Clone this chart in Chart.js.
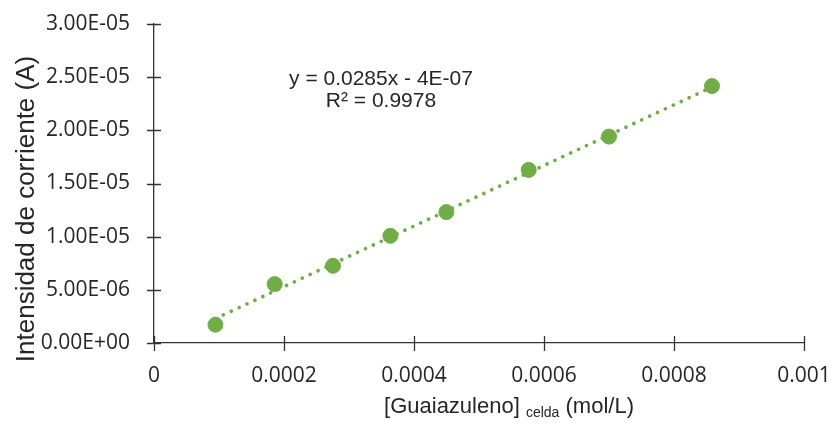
<!DOCTYPE HTML>
<html>
<head>
  <title>Curva de calibración - Guaiazuleno</title>
  <meta charset="utf-8" />
  <script src="https://cdn.jsdelivr.net/npm/chart.js@4.4.1/dist/chart.umd.min.js"></script>
  <style type="text/css">
    html, body { margin: 0; padding: 0; background: #fff; }
    #wrap { width: 834px; height: 429px; }
  </style>
</head>
<body>
<div id="wrap"><canvas id="calib"></canvas></div>

<script>
  // concentración en celda (mol/L) y corriente medida (A)
  var concentracion = [0.0000945, 0.0001857, 0.0002754, 0.0003637, 0.0004498, 0.0005765, 0.0007, 0.0008585];
  var corriente = [1.72e-6, 5.54e-6, 7.26e-6, 1.008e-5, 1.231e-5, 1.628e-5, 1.941e-5, 2.417e-5];

  // línea de tendencia lineal
  var pendiente = 0.0285;
  var intercepto = -4e-7;
  var r2 = 0.9978;

  var xTicks = [0, 0.0002, 0.0004, 0.0006, 0.0008, 0.001];
  var yTicks = [0, 5e-6, 1e-5, 1.5e-5, 2e-5, 2.5e-5, 3e-5];

  var verde = '#70AD47';
  var ejeColor = '#333333';
  var textoColor = '#262626';

  function sci(v) {
    if (v === 0) return '0.00E+00';
    var e = Math.floor(Math.log10(Math.abs(v)) + 1e-9);
    var m = v / Math.pow(10, e);
    var sign = e < 0 ? '-' : '+';
    var ee = Math.abs(e);
    return m.toFixed(2) + 'E' + sign + (ee < 10 ? '0' + ee : ee);
  }

  var puntos = concentracion.map(function(x, i) { return {x: x, y: corriente[i]}; });
  var x0 = concentracion[0], x1 = concentracion[concentracion.length - 1];
  var tendencia = [
    {x: x0, y: pendiente * x0 + intercepto},
    {x: x1, y: pendiente * x1 + intercepto}
  ];

  // marcas cruzadas en los ejes + títulos + ecuación
  var extras = {
    id: 'extras',
    afterDraw: function(chart) {
      var ctx = chart.ctx, xs = chart.scales.x, ys = chart.scales.y;
      var area = chart.chartArea;
      ctx.save();
      ctx.strokeStyle = ejeColor;
      ctx.lineWidth = 1.3;
      ctx.beginPath();
      yTicks.forEach(function(v) {
        var p = Math.round(ys.getPixelForValue(v)) + 0.5;
        ctx.moveTo(area.left - 7, p); ctx.lineTo(area.left + 7, p);
      });
      xTicks.forEach(function(v) {
        var p = Math.round(xs.getPixelForValue(v)) + 0.5;
        ctx.moveTo(p, area.bottom - 7); ctx.lineTo(p, area.bottom + 8);
      });
      ctx.stroke();

      ctx.fillStyle = textoColor;
      // título eje Y
      ctx.save();
      ctx.translate(34, 209);
      ctx.rotate(-Math.PI / 2);
      ctx.font = '26px "Liberation Sans", Arial, sans-serif';
      ctx.textAlign = 'center';
      ctx.textBaseline = 'alphabetic';
      ctx.fillText('Intensidad de corriente (A)', 0, 0);
      ctx.restore();

      // título eje X con subíndice
      var big = '22px "Liberation Sans", Arial, sans-serif';
      var small = '14px "Liberation Sans", Arial, sans-serif';
      var a = '[Guaiazuleno] ', b = 'celda', c = ' (mol/L)';
      ctx.font = big; var wa = ctx.measureText(a).width, wc = ctx.measureText(c).width;
      ctx.font = small; var wb = ctx.measureText(b).width;
      var sx = 509 - (wa + wb + wc) / 2;
      ctx.textAlign = 'left';
      ctx.font = big; ctx.fillText(a, sx, 413);
      ctx.font = small; ctx.fillText(b, sx + wa, 417);
      ctx.font = big; ctx.fillText(c, sx + wa + wb, 413);

      // ecuación de la recta
      ctx.textAlign = 'center';
      ctx.font = '21px "Liberation Sans", Arial, sans-serif';
      ctx.fillText('y = ' + pendiente + 'x - 4E-07', 381, 85);
      ctx.fillText('R² = ' + r2, 381, 107);
      ctx.restore();
    }
  };

  new Chart(document.getElementById('calib'), {
    type: 'scatter',
    data: {
      datasets: [{
        data: tendencia,
        showLine: true,
        borderColor: verde,
        borderWidth: 3.7,
        borderDash: [0.01, 8.7],
        borderCapStyle: 'round',
        pointRadius: 0,
        fill: false
      }, {
        data: puntos,
        backgroundColor: verde,
        borderColor: verde,
        pointRadius: 7.5,
        pointHoverRadius: 7.5
      }]
    },
    plugins: [extras],
    options: {
      responsive: true,
      maintainAspectRatio: false,
      animation: false,
      layout: { padding: { left: 0, right: 30, top: 24, bottom: 0 } },
      plugins: { legend: { display: false }, tooltip: { enabled: false } },
      scales: {
        x: {
          type: 'linear',
          min: 0, max: 0.001,
          afterBuildTicks: function(s) { s.ticks = xTicks.map(function(v) { return {value: v}; }); },
          afterFit: function(s) { s.height = 86; s.paddingLeft = 0; s.paddingRight = 0; },
          grid: { display: false, drawTicks: false },
          border: { display: true, color: ejeColor, width: 1.3 },
          ticks: {
            color: textoColor,
            padding: 20,
            maxRotation: 0,
            font: { family: "'Open Sans', sans-serif", size: 21 },
            callback: function(v) { return String(Number(v.toFixed(4))); }
          }
        },
        y: {
          type: 'linear',
          min: 0, max: 3e-5,
          afterBuildTicks: function(s) { s.ticks = yTicks.map(function(v) { return {value: v}; }); },
          afterFit: function(s) { s.width = 154; s.paddingTop = 0; s.paddingBottom = 0; },
          grid: { display: false, drawTicks: false },
          border: { display: true, color: ejeColor, width: 1.3 },
          ticks: {
            color: textoColor,
            padding: 24,
            font: { family: "'Open Sans', sans-serif", size: 21 },
            callback: function(v) { return sci(v); }
          }
        }
      }
    }
  });
</script>
</body>
</html>
